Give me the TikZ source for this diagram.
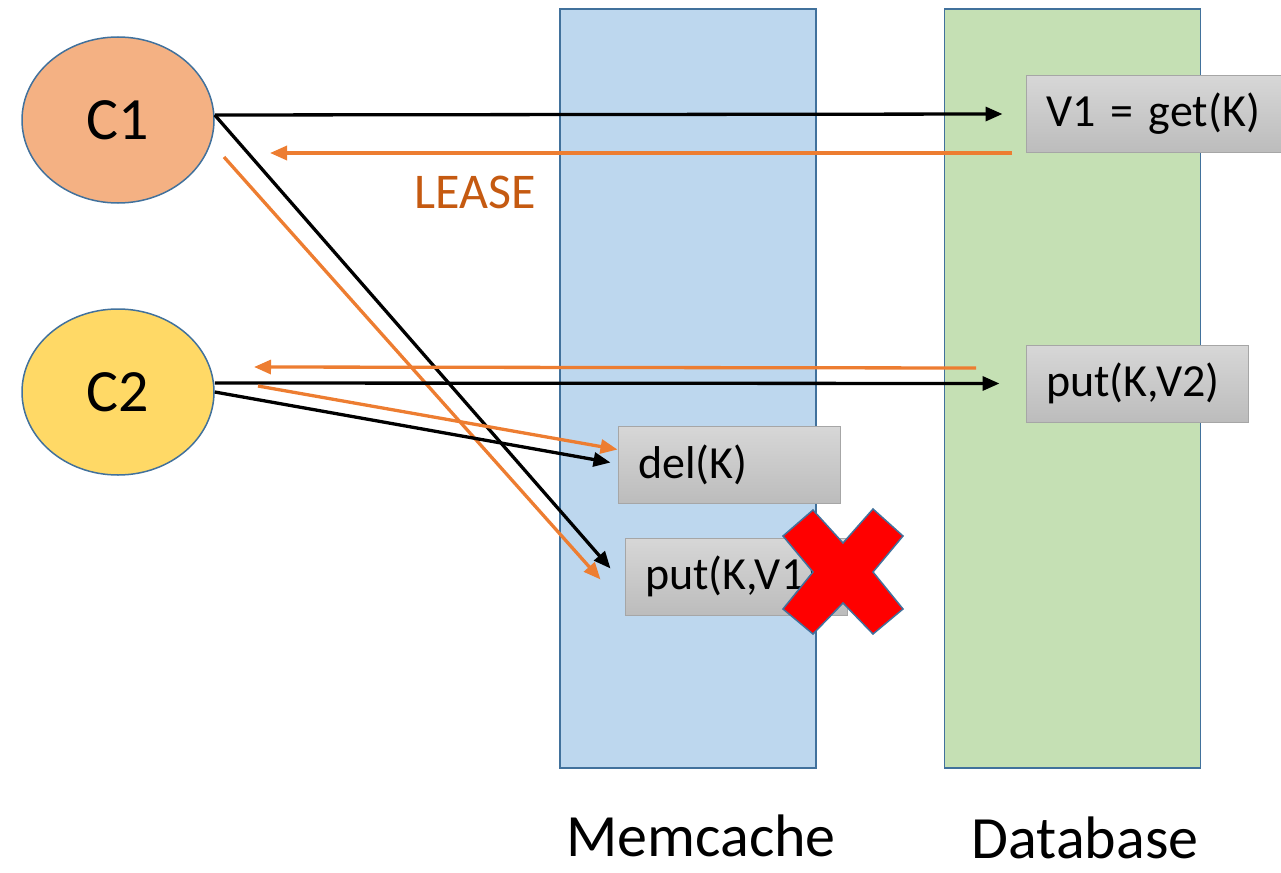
\documentclass[tikz,border=0pt]{standalone}
\usepackage{fontspec}
\setmainfont{Carlito}
\usetikzlibrary{shapes.geometric,arrows.meta,calc}
\definecolor{bordblue}{HTML}{41719C}
\definecolor{memfill}{HTML}{BDD7EE}
\definecolor{dbfill}{HTML}{C5E0B4}
\definecolor{cone}{HTML}{F4B183}
\definecolor{ctwo}{HTML}{FFD966}
\definecolor{orangeline}{HTML}{ED7D31}
\definecolor{leasecol}{HTML}{C55A11}
\definecolor{boxtop}{HTML}{D7D7D7}
\definecolor{boxbot}{HTML}{BCBCBC}
\definecolor{boxbord}{HTML}{A6A6A6}
\definecolor{xred}{HTML}{FF0000}
\tikzset{
  client/.style={ellipse, draw=bordblue, line width=1.5pt, minimum width=192pt, minimum height=166pt, inner sep=0pt, font=\fontsize{60}{60}\selectfont},
  column/.style={draw=bordblue, line width=1.5pt, minimum width=256pt, minimum height=759pt, inner sep=0pt},
  opbox/.style={draw=boxbord, line width=1pt, top color=boxtop, bottom color=boxbot, minimum height=77pt, inner xsep=20pt, inner ysep=0pt, align=left, font=\fontsize{46}{46}\selectfont},
  blk/.style={black, line width=3.3pt, -{Triangle[length=17pt,width=14pt]}},
  org/.style={orangeline, line width=3.3pt, -{Triangle[length=17pt,width=14pt]}},
  collabel/.style={inner sep=0pt, font=\fontsize{60}{60}\selectfont},
}
\begin{document}
\begin{tikzpicture}[x=1pt,y=-1pt]
\useasboundingbox (0,0) rectangle (1281,872);
% columns
\node[column, fill=memfill] (mem) at (688,388.5) {};
\node[column, fill=dbfill] (db) at (1072.5,388.5) {};
% labels
\node[collabel] (memlab) at (701,836) {Memcache};
\node[collabel] (dblab) at (1085,838) {Database};
% clients
\node[client, fill=cone] (c1) at (118,120) {C1};
\node[client, fill=ctwo] (c2) at (118,392) {C2};
% operation boxes
\node[opbox, text width=215pt] (get) at (1153.5,114) {V1 = get(K)};
\node[opbox, text width=182pt] (put2) at (1137,383.5) {put(K,V2)};
\node[opbox, text width=182pt] (del) at (729,464.5) {del(K)};
\node[opbox, text width=182pt] (put1) at (736,576.5) {put(K,V1)};
% red cross
\node[inner sep=0pt] (cross) at (843,572) {};
\draw[fill=xred, draw=bordblue, line width=1.5pt]
  ($(cross)+(-30,-62)$) -- ($(cross)+(0,-29)$) -- ($(cross)+(30,-63)$) -- ($(cross)+(60,-36)$) --
  ($(cross)+(30,0)$) -- ($(cross)+(60,37)$) -- ($(cross)+(30,62)$) -- ($(cross)+(0,31)$) --
  ($(cross)+(-30,62)$) -- ($(cross)+(-60,37)$) -- ($(cross)+(-30,0)$) -- ($(cross)+(-60,-36)$) -- cycle;
% LEASE label
\node[text=leasecol, font=\fontsize{50}{50}\selectfont] (lease) at (475,192) {LEASE};
% connectors
\coordinate (c1a) at ($(c1.east)+(0,-5)$);
\coordinate (c2a) at ($(c2.east)+(0,-9)$);
\coordinate (c2b) at (c2.east);
\coordinate (c1o) at (224,157);
\coordinate (c2o) at (258,386);
\coordinate (c1in) at (270,153);
\coordinate (c2in) at (254,367);
\coordinate (getout) at (1012,153);
\coordinate (put2out) at (976,368);
\draw[blk] (c1a) -- ($(put1.west)+(-14,-8)$);
\draw[org] (c1o) -- ($(put1.west)+(-24,3)$);
\draw[blk] (c1a) -- ([xshift=-23pt]get.west);
\draw[org] (getout) -- (c1in);
\draw[org] (put2out) -- (c2in);
\draw[blk] (c2a) -- ([xshift=-26pt]put2.west);
\draw[blk] (c2b) -- ($(del.west)+(-7,-2)$);
\draw[org] (c2o) -- ($(del.west)+(0,-15)$);
\end{tikzpicture}
\end{document}
